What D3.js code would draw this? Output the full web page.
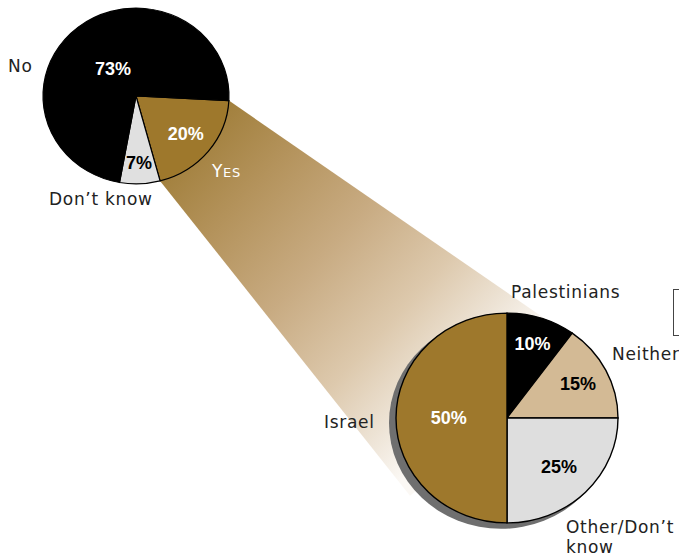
<!DOCTYPE html>
<head>
  <meta charset="utf-8">
  <script src="https://d3js.org/d3.v7.min.js"></script>
  <style>
    body { margin: 0; background: #fff; }
    .cat { font-family: "DejaVu Sans", Verdana, sans-serif; font-size: 17px; letter-spacing: 0.7px; fill: #222; }
    .pct { font-family: "Liberation Sans", Arial, sans-serif; font-size: 18px; font-weight: bold; }
  </style>
</head>
<body>
  <div id="chart"></div>
  <script>
    // first question: yes / don't know / no
    var topCats = ["Yes", "Don’t know", "No"];
    var topVals = [20, 7, 73];
    var topColors = ["#9e782c", "#e0e0e0", "#000000"];
    var topText = ["#fff", "#000", "#fff"];

    // breakdown of the "yes" answers
    var subCats = ["Palestinians", "Neither", "Other/Don’t know", "Israel"];
    var subVals = [10, 15, 25, 50];
    var subColors = ["#000000", "#d3ba95", "#dedede", "#9e782c"];
    var subText = ["#fff", "#000", "#000", "#fff"];

    var width = 679, height = 556,
        squash = 0.945;

    var svg = d3.select("#chart").append("svg")
      .attr("width", width)
      .attr("height", height);

    var defs = svg.append("defs");

    var topPie = {cx: 136, cy: 96, r: 93},
        subPie = {cx: 507, cy: 418, r: 111};

    var deg = Math.PI / 180;

    var pieTop = d3.pie().sort(null).startAngle(93 * deg).endAngle(453 * deg),
        pieSub = d3.pie().sort(null);

    var topArcs = pieTop(topVals),
        subArcs = pieSub(subVals);

    function pt(p, a, rr) {
      return [p.cx + rr * Math.sin(a), p.cy - rr * squash * Math.cos(a)];
    }

    // fan from the "yes" slice to the second pie
    var yes = topArcs[0];
    var a1 = pt(topPie, yes.startAngle, topPie.r),
        a2 = pt(topPie, yes.endAngle, topPie.r);
    var slopeUp = 0.69, slopeLow = 1.26;
    var b1 = [545, a1[1] + (545 - a1[0]) * slopeUp],
        b2 = [410, a2[1] + (410 - a2[0]) * slopeLow];

    var grad = defs.append("linearGradient")
      .attr("id", "fan")
      .attr("gradientUnits", "userSpaceOnUse")
      .attr("x1", 194).attr("y1", 141)
      .attr("x2", 475).attr("y2", 400);

    var fanStops = [[0, "#a2803d"], [0.2, "#b4935c"], [0.45, "#c8ab82"], [0.7, "#ddc9ad"], [0.87, "#ede3d5"], [1, "#fbf8f4"]];
    grad.selectAll("stop")
        .data(fanStops)
      .enter().append("stop")
        .attr("offset", function(d) { return d[0]; })
        .attr("stop-color", function(d) { return d[1]; });

    svg.append("path")
      .attr("d", "M" + a1 + "L" + b1 + "L" + [subPie.cx, subPie.cy] + "L" + b2 + "L" + a2 + "Z")
      .attr("fill", "url(#fan)");

    // top pie
    var arcTop = d3.arc().innerRadius(0).outerRadius(topPie.r);
    var gTop = svg.append("g")
      .attr("transform", "translate(" + topPie.cx + "," + topPie.cy + ") scale(1," + squash + ")");

    gTop.selectAll("path")
        .data(topArcs)
      .enter().append("path")
        .attr("d", arcTop)
        .attr("fill", function(d, i) { return topColors[i]; })
        .attr("stroke", "#000")
        .attr("stroke-width", 1.2);

    // shadow + second pie
    svg.append("ellipse")
      .attr("cx", subPie.cx - 6)
      .attr("cy", subPie.cy + 5)
      .attr("rx", subPie.r + 1)
      .attr("ry", (subPie.r + 1) * squash)
      .attr("fill", "#6f6f6f");

    var arcSub = d3.arc().innerRadius(0).outerRadius(subPie.r);
    var gSub = svg.append("g")
      .attr("transform", "translate(" + subPie.cx + "," + subPie.cy + ") scale(1," + squash + ")");

    gSub.selectAll("path")
        .data(subArcs)
      .enter().append("path")
        .attr("d", arcSub)
        .attr("fill", function(d, i) { return subColors[i]; })
        .attr("stroke", "#000")
        .attr("stroke-width", 1.4);

    // percent labels
    function labelPos(p, d) {
      var f = (d.endAngle - d.startAngle) / (2 * Math.PI);
      var mid = (d.startAngle + d.endAngle) / 2;
      return pt(p, mid, p.r * (0.8 - 0.55 * f));
    }

    svg.selectAll("text.top")
        .data(topArcs)
      .enter().append("text")
        .attr("class", "pct top")
        .attr("text-anchor", "middle")
        .attr("dy", "0.35em")
        .attr("x", function(d) { return labelPos(topPie, d)[0]; })
        .attr("y", function(d) { return labelPos(topPie, d)[1]; })
        .attr("fill", function(d, i) { return topText[i]; })
        .text(function(d) { return d.data + "%"; });

    svg.selectAll("text.sub")
        .data(subArcs)
      .enter().append("text")
        .attr("class", "pct sub")
        .attr("text-anchor", "middle")
        .attr("dy", "0.35em")
        .attr("x", function(d) { return labelPos(subPie, d)[0]; })
        .attr("y", function(d) { return labelPos(subPie, d)[1]; })
        .attr("fill", function(d, i) { return subText[i]; })
        .text(function(d) { return d.data + "%"; });

    // category labels
    svg.append("text").attr("class", "cat").attr("x", 8).attr("y", 72).text(topCats[2]);
    svg.append("text").attr("class", "cat").attr("x", 49).attr("y", 205).text(topCats[1]);

    var yesLab = svg.append("text").attr("class", "cat").attr("x", 212).attr("y", 177).style("fill", "#fff");
    yesLab.append("tspan").text(topCats[0].charAt(0).toUpperCase());
    yesLab.append("tspan").style("font-size", "13px").text(topCats[0].slice(1).toUpperCase());

    svg.append("text").attr("class", "cat").attr("x", 511).attr("y", 298).text(subCats[0]);
    svg.append("text").attr("class", "cat").attr("x", 612).attr("y", 360).text(subCats[1]);
    svg.append("text").attr("class", "cat").attr("x", 324).attr("y", 428).text(subCats[3]);

    var cut = subCats[2].lastIndexOf(" ");
    var otherLab = svg.append("text").attr("class", "cat").attr("x", 566).attr("y", 533);
    otherLab.append("tspan").text(subCats[2].slice(0, cut));
    otherLab.append("tspan").attr("x", 566).attr("dy", 20).text(subCats[2].slice(cut + 1));

    // cropped legend box at the right edge
    svg.append("rect")
      .attr("x", 673.5).attr("y", 289.5)
      .attr("width", 40).attr("height", 46)
      .attr("fill", "none")
      .attr("stroke", "#444");
  </script>
</body>
